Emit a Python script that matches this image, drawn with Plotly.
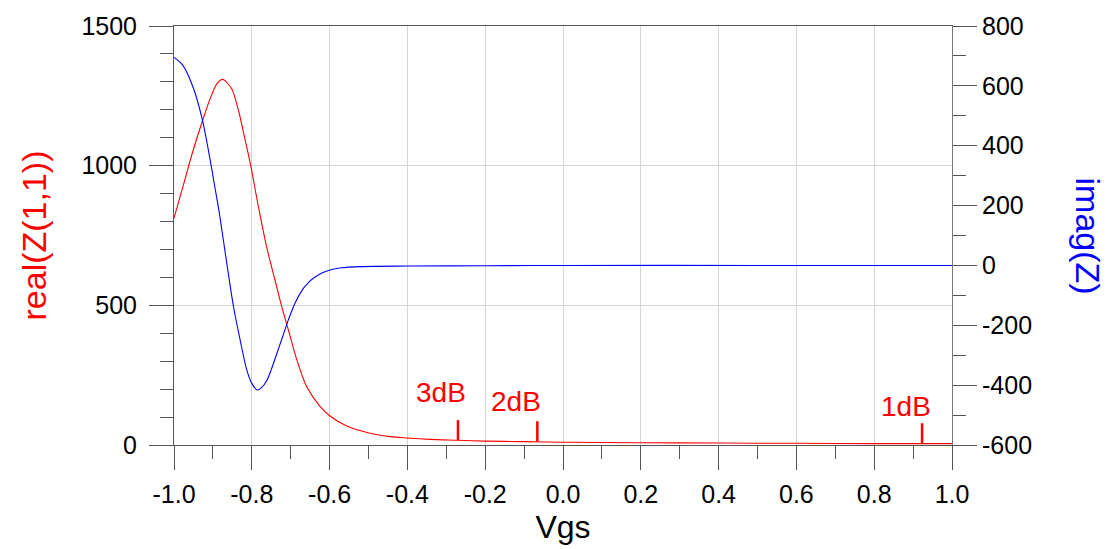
import plotly.graph_objects as go

# ---- data ----
vgs_real = [-1.0, -0.976, -0.954, -0.927, -0.907, -0.89, -0.875, -0.852,
            -0.832, -0.82, -0.803, -0.783, -0.762, -0.740, -0.723, -0.706, -0.684, -0.659,
            -0.624, -0.599, -0.556, -0.504, -0.444, -0.401, -0.342, -0.27, -0.2, -0.1,
            0.0, 0.2, 0.4, 0.6, 0.8, 1.0]
real_z = [812, 930, 1040, 1160, 1240, 1293, 1309, 1276,
          1185, 1110, 1002, 853, 710, 588, 495, 412, 304, 209,
          137, 104, 68, 45, 30, 25, 20, 17, 14, 12,
          10, 8, 7, 6, 5, 5]

vgs_imag = [-1.0, -0.978, -0.95, -0.927, -0.907, -0.895, -0.884, -0.876, -0.863, -0.847,
            -0.830, -0.813, -0.800, -0.786, -0.775, -0.762, -0.75, -0.736, -0.72, -0.706,
            -0.689, -0.667, -0.655, -0.642, -0.62, -0.599, -0.57, -0.52, -0.48, -0.4,
            -0.2, 0.0, 0.5, 1.0]
imag_z = [695, 670, 592, 486, 352, 262, 180, 110, -4, -138,
          -249, -349, -394, -416, -408, -386, -348, -296, -235, -182,
          -126, -76, -58, -43, -25, -15, -8, -4, -3, -2,
          -1, 0, 0, 0]

marker_x = [-0.27, -0.066, 0.923]
marker_y = [17, 13, 6]
marker_labels = ["3dB", "2dB", "1dB"]

x_tickvals = [-1.0, -0.8, -0.6, -0.4, -0.2, 0.0, 0.2, 0.4, 0.6, 0.8, 1.0]
x_ticktext = ["-1.0", "-0.8", "-0.6", "-0.4", "-0.2", "0.0", "0.2", "0.4", "0.6", "0.8", "1.0"]
y1_tickvals = [0, 500, 1000, 1500]
y1_ticktext = ["0", "500", "1000", "1500"]
y2_tickvals = [-600, -400, -200, 0, 200, 400, 600, 800]
y2_ticktext = ["-600", "-400", "-200", "0", "200", "400", "600", "800"]

FONT = "Liberation Sans, Arial, sans-serif"
AXC = "#555555"
GRID = "#d4d4d4"
L, R, T, B = 174, 158, 26, 104
PW = 1110 - L - R

fig = go.Figure()
fig.add_trace(go.Scatter(x=vgs_real, y=real_z, mode="lines",
                         line=dict(color="#ff0000", width=1.1, shape="spline", smoothing=0.8),
                         yaxis="y", showlegend=False, hoverinfo="skip"))
fig.add_trace(go.Scatter(x=vgs_imag, y=imag_z, mode="lines",
                         line=dict(color="#0000ff", width=1.1, shape="spline", smoothing=0.8),
                         yaxis="y2", showlegend=False, hoverinfo="skip"))

# marker ticks
mx, my = [], []
for xv, yv in zip(marker_x, marker_y):
    mx += [xv, xv, None]
    my += [yv, yv + 72, None]
fig.add_trace(go.Scatter(x=mx, y=my, mode="lines", line=dict(color="#ff0000", width=2.5),
                         yaxis="y", showlegend=False, hoverinfo="skip"))

text_shift = [(-17, 48), (-21, 40), (-16, 37)]
for xv, yv, lab, (dx, dy) in zip(marker_x, marker_y, marker_labels, text_shift):
    fig.add_annotation(x=xv, y=yv, xref="x", yref="y", text=lab, showarrow=False,
                       xshift=dx, yshift=dy, font=dict(family=FONT, size=28, color="#ff0000"))

fig.add_annotation(x=-(L - 33) / PW, y=0.5, xref="paper", yref="paper", text="real(Z(1,1))",
                   showarrow=False, textangle=-90, xanchor="center",
                   font=dict(family=FONT, size=34, color="#ff0000"))
fig.add_annotation(x=1 + (1088 - (L + PW)) / PW, y=0.5, xref="paper", yref="paper", text="imag(Z)",
                   showarrow=False, textangle=90, xanchor="center",
                   font=dict(family=FONT, size=34, color="#0000ff"))

fig.update_layout(
    width=1110, height=549,
    margin=dict(l=L, r=R, t=T, b=B),
    paper_bgcolor="white", plot_bgcolor="white",
    font=dict(family=FONT, size=25, color="black"),
    xaxis=dict(range=[-1.0, 1.0], tickvals=x_tickvals, ticktext=x_ticktext,
               ticks="outside", ticklen=24, tickwidth=1, tickcolor=AXC,
               minor=dict(dtick=0.1, tick0=0, ticks="outside", ticklen=13, tickcolor=AXC, showgrid=False),
               showline=True, linecolor=AXC, linewidth=1, mirror=True,
               showgrid=True, gridcolor=GRID, gridwidth=1, zeroline=False,
               ticklabelstandoff=3, automargin=False,
               title=dict(text="Vgs", font=dict(family=FONT, size=32), standoff=8)),
    yaxis=dict(range=[0, 1500], tickvals=y1_tickvals, ticktext=y1_ticktext,
               ticks="outside", ticklen=24, tickwidth=1, tickcolor=AXC,
               minor=dict(dtick=100, tick0=0, ticks="outside", ticklen=13, tickcolor=AXC, showgrid=False),
               showline=True, linecolor=AXC, linewidth=1,
               showgrid=True, gridcolor=GRID, gridwidth=1, zeroline=False,
               ticklabelstandoff=7, automargin=False),
    yaxis2=dict(range=[-600, 800], tickvals=y2_tickvals, ticktext=y2_ticktext,
                overlaying="y", side="right",
                ticks="outside", ticklen=24, tickwidth=1, tickcolor=AXC,
                minor=dict(dtick=100, tick0=0, ticks="outside", ticklen=13, tickcolor=AXC, showgrid=False),
                showline=True, linecolor="#777777", linewidth=1,
                showgrid=False, zeroline=False, automargin=False),
)

fig.write_html("out.html", config={"displayModeBar": False},
               post_script="document.body.style.margin='0px';")
